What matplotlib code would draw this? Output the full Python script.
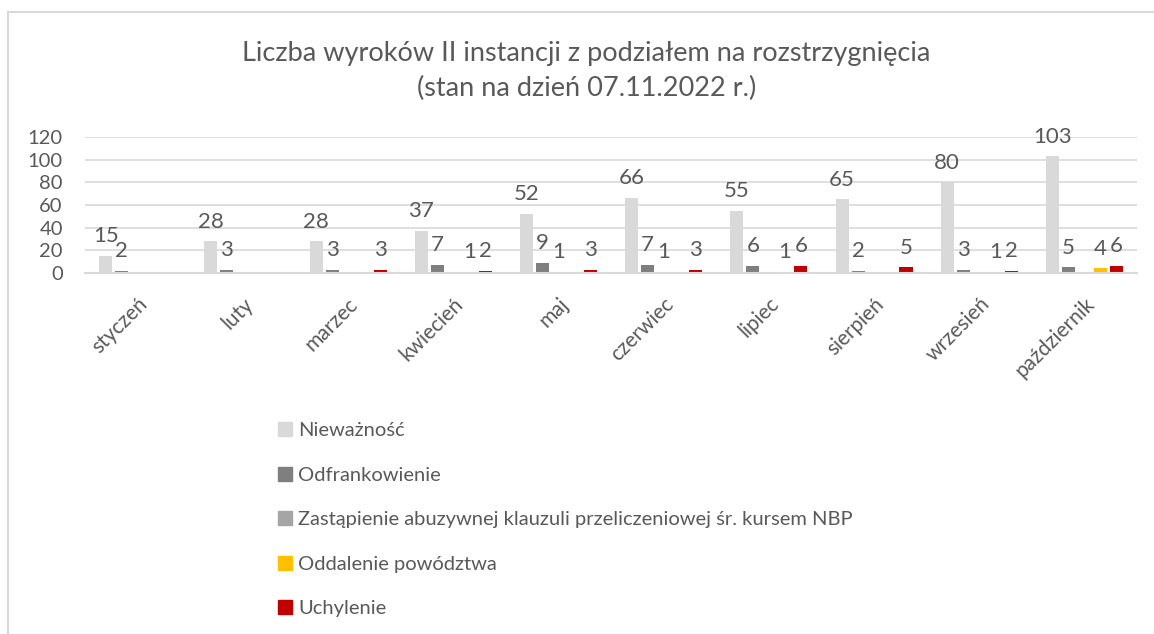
import matplotlib.pyplot as plt
import numpy as np
from matplotlib.lines import Line2D

plt.rcParams['font.family'] = ['Lato', 'DejaVu Sans']

months = ['styczeń', 'luty', 'marzec', 'kwiecień', 'maj', 'czerwiec',
          'lipiec', 'sierpień', 'wrzesień', 'październik']

series_names = ['Nieważność', 'Odfrankowienie',
                'Zastąpienie abuzywnej klauzuli przeliczeniowej śr. kursem NBP',
                'Oddalenie powództwa', 'Uchylenie']
niewaznosc = [15, 28, 28, 37, 52, 66, 55, 65, 80, 103]
odfrankowienie = [2, 3, 3, 7, 9, 7, 6, 2, 3, 5]
zastapienie = [0, 0, 0, 0, 1, 1, 0, 0, 0, 0]
oddalenie = [0, 0, 0, 1, 0, 0, 1, 0, 1, 4]
uchylenie = [0, 0, 3, 2, 3, 3, 6, 5, 2, 6]

colors = ['#d9d9d9', '#7f7f7f', '#a5a5a5', '#ffc000', '#c00000']
text_col = '#595959'

fig = plt.figure(figsize=(11.54, 6.34), dpi=100)
ax = fig.add_axes([0.0737, 0.5694, 0.9116, 0.2145])

x = np.arange(len(months))
step = 0.152
width = 0.124
all_series = [niewaznosc, odfrankowienie, zastapienie, oddalenie, uchylenie]
for i, (vals, name, c) in enumerate(zip(all_series, series_names, colors)):
    pos = x + (i - 2) * step
    bars = ax.bar(pos, vals, width, color=c, label=name, zorder=2)
    for b, v in zip(bars, vals):
        if v == 0:
            continue
        ax.annotate(str(v), (b.get_x() + b.get_width() / 2, v),
                    xytext=(0, 7), textcoords='offset points',
                    ha='center', va='bottom', fontsize=16, color=text_col)

ax.set_xlim(-0.5, len(months) - 0.5)
ax.set_ylim(0, 120)
ax.set_yticks(range(0, 121, 20))
ax.grid(axis='y', color='#d9d9d9', linewidth=1.2, zorder=0)
for s in ['top', 'right', 'left']:
    ax.spines[s].set_visible(False)
ax.spines['bottom'].set_color('#d9d9d9')
ax.spines['bottom'].set_linewidth(1.5)
ax.tick_params(axis='y', length=0, pad=16, labelsize=14.5, labelcolor=text_col)
ax.tick_params(axis='x', length=0, pad=15, labelsize=15, labelcolor=text_col)
ax.set_xticks(x)
ax.set_xticklabels(months, rotation=45, ha='right', rotation_mode='anchor')

fig.text(0.508, 0.888, 'Liczba wyroków II instancji z podziałem na rozstrzygnięcia\n(stan na dzień 07.11.2022 r.)',
         ha='center', va='center', fontsize=19.5, color=text_col, linespacing=1.45)

handles = [plt.Rectangle((0, 0), 1, 1, color=c) for c in colors]
fig.legend(handles, series_names, loc='upper left', bbox_to_anchor=(0.232, 0.35),
           frameon=False, fontsize=14.5, labelcolor=text_col, handlelength=0.7,
           handleheight=0.7, handletextpad=0.3, labelspacing=1.36, borderpad=0)

# outer chart frame (left and top edges)
fig.add_artist(Line2D([8 / 1154, 8 / 1154], [0, 1 - 12 / 634], transform=fig.transFigure,
                      color='#d9d9d9', linewidth=1.5))
fig.add_artist(Line2D([8 / 1154, 1], [1 - 12 / 634, 1 - 12 / 634], transform=fig.transFigure,
                      color='#d9d9d9', linewidth=1.5))

fig.savefig('out.png', dpi=100)
